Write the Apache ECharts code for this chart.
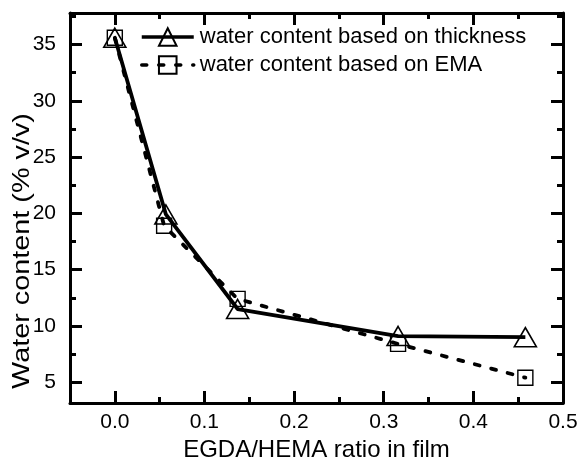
<!DOCTYPE html>
<html>
<head>
<meta charset="utf-8">
<script src="https://cdn.jsdelivr.net/npm/echarts@6/dist/echarts.min.js"></script>
<style>
  html, body { margin: 0; padding: 0; background: #fff; }
  #chart { width: 579px; height: 462px; }
</style>
</head>
<body>
<div id="chart"></div>
<script>
// EGDA/HEMA cross-linker ratio in the film
const ratioThickness = [0, 0.057, 0.137, 0.316, 0.458];
const ratioEMA = [0, 0.055, 0.137, 0.316, 0.458];
// Water content (% v/v)
const waterThickness = [35.6, 19.9, 11.5, 9.1, 9.0];
const waterEMA = [35.6, 18.9, 12.4, 8.4, 5.4];

const seriesNames = ['water content based on thickness', 'water content based on EMA'];

// Axis ticks and labels
const xMajor = [0, 0.1, 0.2, 0.3, 0.4, 0.5];
const xMinor = [0.05, 0.15, 0.25, 0.35, 0.45];
const yMajor = [5, 10, 15, 20, 25, 30, 35];
const yMinor = [7.5, 12.5, 17.5, 22.5, 27.5, 32.5, 37.5];

const FONT = 'Liberation Sans, Arial, sans-serif';
const X_RANGE = [-0.05, 0.5];
const Y_RANGE = [3.15, 37.8];

function pairs(xs, ys) { return xs.map((x, i) => [x, ys[i]]); }

function makeAxis(dim, position, ticks, length, withLine, withLabels) {
  const range = dim === 'x' ? X_RANGE : Y_RANGE;
  return {
    type: 'value',
    position: position,
    min: range[0],
    max: range[1],
    splitLine: { show: false },
    axisLine: { show: withLine, onZero: false, lineStyle: { color: '#000', width: 3 } },
    axisTick: {
      show: true, inside: true, length: length, customValues: ticks,
      lineStyle: { color: '#000', width: 3 }
    },
    axisLabel: withLabels ? {
      show: true, customValues: ticks, color: '#000', fontFamily: FONT, fontSize: 21,
      margin: dim === 'x' ? 9 : 14,
      formatter: v => dim === 'x' ? v.toFixed(1) : String(v)
    } : { show: false }
  };
}

const xAxes = [
  makeAxis('x', 'bottom', xMajor, 12, true, true),
  makeAxis('x', 'bottom', xMinor, 6, false, false),
  makeAxis('x', 'top', xMajor, 12, true, false),
  makeAxis('x', 'top', xMinor, 6, false, false)
];
xAxes[0].name = 'EGDA/HEMA ratio in film';
xAxes[0].nameLocation = 'middle';
xAxes[0].nameGap = 34;
xAxes[0].nameTextStyle = { color: '#000', fontFamily: FONT, fontSize: 24 };

const yAxes = [
  makeAxis('y', 'left', yMajor, 12, true, true),
  makeAxis('y', 'left', yMinor, 6, false, false),
  makeAxis('y', 'right', yMajor, 12, true, false),
  makeAxis('y', 'right', yMinor, 6, false, false)
];

const chart = echarts.init(document.getElementById('chart'), null, { renderer: 'canvas' });
chart.setOption({
  animation: false,
  backgroundColor: '#fff',
  grid: { left: 70, right: 16, top: 13, bottom: 59, containLabel: false, outerBoundsMode: 'none' },
  xAxis: xAxes,
  yAxis: yAxes,
  legend: {
    orient: 'vertical',
    left: 140,
    top: 26,
    padding: 0,
    itemWidth: 52,
    itemHeight: 22,
    itemGap: 6,
    lineStyle: { width: 3.5 },
    textStyle: { color: '#000', fontFamily: FONT, fontSize: 22, padding: [0, 0, 0, 1] },
    data: seriesNames
  },
  graphic: [{
    type: 'text',
    x: 22,
    y: 251,
    rotation: Math.PI / 2,
    scaleX: 1.2,
    style: {
      text: 'Water content (% v/v)',
      font: '24px ' + FONT,
      fill: '#000',
      textAlign: 'center',
      textVerticalAlign: 'middle'
    }
  }],
  series: [
    {
      name: seriesNames[0],
      type: 'line',
      data: pairs(ratioThickness, waterThickness),
      symbol: 'triangle',
      symbolSize: [22, 19],
      showAllSymbol: true,
      lineStyle: { color: '#000', width: 3.8, type: 'solid' },
      itemStyle: { color: 'rgba(0,0,0,0)', borderColor: '#000', borderWidth: 1.6 },
      z: 3
    },
    {
      name: seriesNames[1],
      type: 'line',
      data: pairs(ratioEMA, waterEMA),
      symbol: 'rect',
      symbolSize: 15,
      showAllSymbol: true,
      lineStyle: { color: '#000', width: 3.8, type: [5, 12], cap: 'round' },
      itemStyle: { color: 'rgba(0,0,0,0)', borderColor: '#000', borderWidth: 1.4 },
      z: 2
    }
  ]
});
</script>
</body>
</html>
